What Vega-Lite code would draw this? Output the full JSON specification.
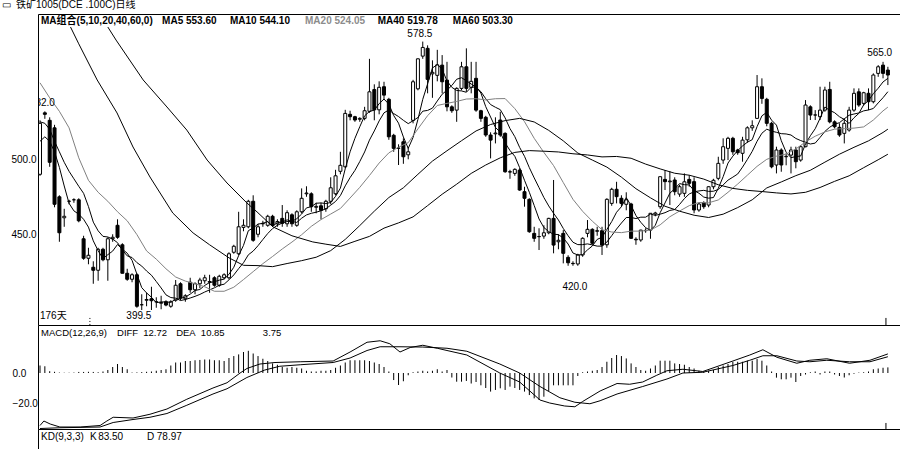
{
"$schema":"https://vega.github.io/schema/vega-lite/v6.json",
"padding":{"left":2,"top":0,"right":0,"bottom":0},
"background":"white",
"spacing":0,
"bounds":"flush",
"config":{"view":{"stroke":null},"axis":{"grid":false,"labelFont":"Liberation Sans","domainColor":"#000","labelColor":"#000","labelFontSize":10},"text":{"font":"Liberation Sans, Noto Sans CJK SC","fontSize":10,"color":"#000"},"line":{"strokeWidth":1,"invalid":"filter"},"scale":{"continuousPadding":0}},
"datasets":{
"k":[
{"i":0,"op":490,"hi":526,"lo":489,"cl":524,"m":5,"a5":512,"a10":525},
{"i":1,"op":531,"hi":532,"lo":527,"cl":530,"m":4.5,"a5":515,"a10":524},
{"i":2,"op":526,"hi":528,"lo":495,"cl":498,"m":1.2,"a5":512,"a10":520},
{"i":3,"op":521,"hi":523,"lo":468,"cl":470,"m":0.8,"a5":505,"a10":512},
{"i":4,"op":475,"hi":476,"lo":445,"cl":451,"m":0.3,"a5":494.6,"a10":505},
{"i":5,"op":461,"hi":467,"lo":455,"cl":462,"m":0.2,"a5":482.2,"a10":498},
{"i":6,"op":472,"hi":473,"lo":470,"cl":472,"m":0.2,"a5":470.6,"a10":492},
{"i":7,"op":473,"hi":474,"lo":471,"cl":473,"m":0.3,"a5":465.6,"a10":487},
{"i":8,"op":473,"hi":474,"lo":458,"cl":459,"m":0.7,"a5":463.4,"a10":482},
{"i":9,"op":447,"hi":449,"lo":433,"cl":434,"m":0.7,"a5":460,"a10":477.3},
{"i":10,"op":434,"hi":441,"lo":430,"cl":436,"m":0.8,"a5":454.8,"a10":468.5},
{"i":11,"op":428,"hi":432,"lo":417,"cl":426,"m":0.7,"a5":445.6,"a10":458.1},
{"i":12,"op":426,"hi":441,"lo":419,"cl":440,"m":0.5,"a5":439,"a10":452.3},
{"i":13,"op":440,"hi":441,"lo":432,"cl":433,"m":1,"a5":433.8,"a10":448.6},
{"i":14,"op":433,"hi":448,"lo":419,"cl":447,"m":2,"a5":436.4,"a10":448.2},
{"i":15,"op":447,"hi":450,"lo":445,"cl":448,"m":4,"a5":438.8,"a10":446.8},
{"i":16,"op":456,"hi":460,"lo":447,"cl":448,"m":6,"a5":443.2,"a10":444.4},
{"i":17,"op":443,"hi":444,"lo":424,"cl":424,"m":4,"a5":440,"a10":439.5},
{"i":18,"op":424,"hi":427,"lo":419,"cl":420,"m":2.5,"a5":437.4,"a10":435.6},
{"i":19,"op":420,"hi":424,"lo":418,"cl":423,"m":0.3,"a5":432.6,"a10":434.5},
{"i":20,"op":423,"hi":424,"lo":401,"cl":402,"m":0.4,"a5":423.4,"a10":431.1},
{"i":21,"op":403,"hi":410,"lo":399.5,"cl":403,"m":0.6,"a5":414.4,"a10":428.8},
{"i":22,"op":406,"hi":411,"lo":402,"cl":406.5,"m":0.8,"a5":410.9,"a10":425.5},
{"i":23,"op":407,"hi":415,"lo":399.5,"cl":405.7,"m":1,"a5":408,"a10":422.7},
{"i":24,"op":405,"hi":408,"lo":401,"cl":405,"m":1.5,"a5":404.4,"a10":418.5},
{"i":25,"op":404,"hi":409,"lo":400,"cl":404.5,"m":2,"a5":404.9,"a10":414.2},
{"i":26,"op":405,"hi":406,"lo":402,"cl":402.8,"m":2.5,"a5":404.9,"a10":409.6},
{"i":27,"op":402,"hi":406,"lo":401,"cl":405,"m":5,"a5":404.6,"a10":407.8},
{"i":28,"op":406,"hi":419.5,"lo":405,"cl":416,"m":7,"a5":406.7,"a10":407.4},
{"i":29,"op":417,"hi":418,"lo":406,"cl":407.5,"m":7,"a5":407.2,"a10":405.8},
{"i":30,"op":407,"hi":410,"lo":405,"cl":409,"m":8,"a5":408.1,"a10":406.5},
{"i":31,"op":418,"hi":421,"lo":411,"cl":413,"m":8,"a5":410.1,"a10":407.5},
{"i":32,"op":413,"hi":418,"lo":410,"cl":417,"m":8.5,"a5":412.5,"a10":408.6},
{"i":33,"op":417,"hi":421,"lo":414,"cl":419.5,"m":8.7,"a5":413.2,"a10":409.9},
{"i":34,"op":419,"hi":423,"lo":417,"cl":421,"m":9,"a5":415.9,"a10":411.5},
{"i":35,"op":418,"hi":423,"lo":411,"cl":418.5,"m":9,"a5":417.8,"a10":412.9},
{"i":36,"op":421,"hi":422,"lo":415,"cl":416,"m":8.5,"a5":418.4,"a10":414.3},
{"i":37,"op":416,"hi":423,"lo":415,"cl":422,"m":8.5,"a5":419.4,"a10":416},
{"i":38,"op":421,"hi":424,"lo":420,"cl":423,"m":8,"a5":420.1,"a10":416.7},
{"i":39,"op":421,"hi":438,"lo":420,"cl":437,"m":10,"a5":423.3,"a10":419.6},
{"i":40,"op":438,"hi":443,"lo":437,"cl":442,"m":11.3,"a5":428,"a10":422.9},
{"i":41,"op":437,"hi":465,"lo":436,"cl":455,"m":12.4,"a5":435.8,"a10":427.1},
{"i":42,"op":454.6,"hi":460,"lo":452,"cl":456,"m":14,"a5":442.6,"a10":431},
{"i":43,"op":455,"hi":473,"lo":454,"cl":472,"m":14.8,"a5":452.4,"a10":436.3},
{"i":44,"op":472,"hi":476,"lo":445,"cl":446,"m":13,"a5":454.2,"a10":438.8},
{"i":45,"op":450,"hi":457,"lo":448,"cl":455,"m":11.3,"a5":456.8,"a10":442.4},
{"i":46,"op":457,"hi":459,"lo":455,"cl":457.3,"m":9.5,"a5":457.3,"a10":446.5},
{"i":47,"op":456,"hi":463,"lo":455,"cl":462,"m":8,"a5":458.5,"a10":450.5},
{"i":48,"op":462,"hi":463,"lo":455,"cl":456,"m":6.4,"a5":455.3,"a10":453.8},
{"i":49,"op":457,"hi":460,"lo":455,"cl":458.5,"m":5.5,"a5":457.8,"a10":456},
{"i":50,"op":460.6,"hi":469.5,"lo":455,"cl":457.3,"m":4,"a5":458.2,"a10":457.5},
{"i":51,"op":457,"hi":466,"lo":455,"cl":464.4,"m":3.5,"a5":459.6,"a10":458.5},
{"i":52,"op":463,"hi":464,"lo":455,"cl":457,"m":4,"a5":458.6,"a10":458.6},
{"i":53,"op":456,"hi":466,"lo":455,"cl":465,"m":3.5,"a5":460.4,"a10":457.9},
{"i":54,"op":465,"hi":480.6,"lo":464,"cl":474,"m":3,"a5":463.5,"a10":460.7},
{"i":55,"op":477,"hi":482,"lo":475,"cl":477.5,"m":1.5,"a5":467.6,"a10":462.9},
{"i":56,"op":477,"hi":478,"lo":465,"cl":468.4,"m":1,"a5":468.4,"a10":464},
{"i":57,"op":468,"hi":471,"lo":464,"cl":468.6,"m":1,"a5":470.7,"a10":464.7},
{"i":58,"op":469,"hi":471,"lo":460,"cl":466,"m":1.5,"a5":470.9,"a10":465.7},
{"i":59,"op":467,"hi":473,"lo":465,"cl":472,"m":1.5,"a5":470.5,"a10":467},
{"i":60,"op":472,"hi":488,"lo":470,"cl":481,"m":2,"a5":471.2,"a10":469.4},
{"i":61,"op":477,"hi":493,"lo":476,"cl":489,"m":3.5,"a5":475.3,"a10":471.9},
{"i":62,"op":492,"hi":505,"lo":490,"cl":496,"m":5,"a5":480.8,"a10":475.8},
{"i":63,"op":495,"hi":533,"lo":494,"cl":530.6,"m":7,"a5":493.7,"a10":482.3},
{"i":64,"op":530,"hi":532.4,"lo":526,"cl":528.4,"m":8.5,"a5":505,"a10":487.8},
{"i":65,"op":528.4,"hi":529,"lo":525,"cl":526.2,"m":8.5,"a5":514,"a10":492.6},
{"i":66,"op":526.7,"hi":528,"lo":525,"cl":527.3,"m":8.5,"a5":521.7,"a10":498.5},
{"i":67,"op":527.3,"hi":535,"lo":526,"cl":532.4,"m":8.5,"a5":529,"a10":504.9},
{"i":68,"op":532,"hi":567,"lo":531,"cl":545,"m":8,"a5":531.9,"a10":512.8},
{"i":69,"op":546.5,"hi":550,"lo":526,"cl":533,"m":7,"a5":532.8,"a10":518.9},
{"i":70,"op":533,"hi":552,"lo":530,"cl":548,"m":6,"a5":537.1,"a10":525.6},
{"i":71,"op":548.4,"hi":551.7,"lo":539.5,"cl":542.8,"m":4,"a5":540.2,"a10":531},
{"i":72,"op":540,"hi":541,"lo":513,"cl":515,"m":1,"a5":536.8,"a10":532.9},
{"i":73,"op":516,"hi":517,"lo":505,"cl":507.3,"m":-4.7,"a5":529.2,"a10":530.5},
{"i":74,"op":507.3,"hi":510,"lo":496.2,"cl":507.5,"m":-8,"a5":524.1,"a10":528.5},
{"i":75,"op":511.7,"hi":514,"lo":497,"cl":501.7,"m":-5.5,"a5":514.9,"a10":526},
{"i":76,"op":503,"hi":508,"lo":500,"cl":505,"m":-1.5,"a5":507.3,"a10":523.8},
{"i":77,"op":526,"hi":553,"lo":524,"cl":551.7,"m":0.5,"a5":514.6,"a10":525.7},
{"i":78,"op":547,"hi":567.3,"lo":546,"cl":567,"m":1,"a5":526.6,"a10":527.9},
{"i":79,"op":568.8,"hi":578.5,"lo":567,"cl":574.6,"m":1.5,"a5":540,"a10":532.1},
{"i":80,"op":574,"hi":576,"lo":544,"cl":553.3,"m":1,"a5":550.3,"a10":532.6},
{"i":81,"op":557,"hi":566,"lo":541,"cl":558,"m":1.5,"a5":560.9,"a10":534.1},
{"i":82,"op":556,"hi":573,"lo":552,"cl":563,"m":2.5,"a5":563.2,"a10":538.9},
{"i":83,"op":562.8,"hi":569.5,"lo":544,"cl":551.7,"m":1,"a5":560.1,"a10":543.4},
{"i":84,"op":552.8,"hi":565,"lo":532,"cl":535,"m":2,"a5":552.2,"a10":546.1},
{"i":85,"op":535,"hi":536,"lo":531,"cl":532.4,"m":-3,"a5":548,"a10":549.2},
{"i":86,"op":532.8,"hi":548,"lo":525,"cl":547.3,"m":-5.8,"a5":545.9,"a10":553.4},
{"i":87,"op":547.3,"hi":565,"lo":546,"cl":561.7,"m":-5.8,"a5":545.6,"a10":554.4},
{"i":88,"op":561.7,"hi":574,"lo":545,"cl":547.3,"m":-5.3,"a5":544.7,"a10":552.4},
{"i":89,"op":548,"hi":565,"lo":544,"cl":552,"m":-7,"a5":548.1,"a10":550.2},
{"i":90,"op":554,"hi":565,"lo":531.7,"cl":532.8,"m":-6,"a5":548.2,"a10":548.1},
{"i":91,"op":532.4,"hi":533,"lo":525,"cl":527.3,"m":-8.2,"a5":544.2,"a10":545.1},
{"i":92,"op":528,"hi":529,"lo":515,"cl":516.2,"m":-10,"a5":535.1,"a10":540.4},
{"i":93,"op":516.2,"hi":518,"lo":500.6,"cl":512.8,"m":-12.4,"a5":528.2,"a10":536.5},
{"i":94,"op":517,"hi":528,"lo":510.6,"cl":517.5,"m":-11.3,"a5":521.3,"a10":534.7},
{"i":95,"op":526.2,"hi":531.7,"lo":515,"cl":516.2,"m":-10.2,"a5":518,"a10":533.1},
{"i":96,"op":517.3,"hi":518,"lo":491,"cl":491.7,"m":-11.3,"a5":510.9,"a10":527.6},
{"i":97,"op":491.7,"hi":493,"lo":487,"cl":491.5,"m":-9.1,"a5":505.9,"a10":520.5},
{"i":98,"op":490.6,"hi":494,"lo":489,"cl":493.3,"m":-10,"a5":502,"a10":515.1},
{"i":99,"op":492.8,"hi":494,"lo":479,"cl":479.5,"m":-11.3,"a5":494.4,"a10":507.9},
{"i":100,"op":478.4,"hi":481.7,"lo":468.4,"cl":474,"m":-12.4,"a5":486,"a10":502},
{"i":101,"op":473.3,"hi":474,"lo":451,"cl":451.7,"m":-14.7,"a5":478,"a10":494.4},
{"i":102,"op":450.6,"hi":455,"lo":445,"cl":447.3,"m":-16.9,"a5":469.2,"a10":487.6},
{"i":103,"op":448.4,"hi":454,"lo":439.5,"cl":448.5,"m":-18,"a5":460.2,"a10":481.1},
{"i":104,"op":448.8,"hi":456,"lo":447,"cl":451,"m":-15.8,"a5":454.5,"a10":474.5},
{"i":105,"op":451,"hi":461,"lo":450,"cl":460.6,"m":-12,"a5":451.8,"a10":468.9},
{"i":106,"op":460.6,"hi":486.2,"lo":437.3,"cl":442.8,"m":-8.2,"a5":450,"a10":464},
{"i":107,"op":445,"hi":450,"lo":440,"cl":446,"m":-8.2,"a5":449.8,"a10":459.5},
{"i":108,"op":450.6,"hi":452.8,"lo":430.6,"cl":437.3,"m":-8.2,"a5":447.5,"a10":453.9},
{"i":109,"op":434.6,"hi":436,"lo":429,"cl":431,"m":-8.2,"a5":443.5,"a10":449},
{"i":110,"op":430.6,"hi":432,"lo":429,"cl":430.4,"m":-8.2,"a5":437.5,"a10":444.7},
{"i":111,"op":430.2,"hi":437,"lo":429,"cl":436.2,"m":-2,"a5":436.2,"a10":443.1},
{"i":112,"op":436.2,"hi":448,"lo":435,"cl":447.3,"m":0.5,"a5":436.4,"a10":443.1},
{"i":113,"op":450.6,"hi":459.5,"lo":448,"cl":453.3,"m":1,"a5":439.6,"a10":443.6},
{"i":114,"op":453.3,"hi":454,"lo":443,"cl":444,"m":1.5,"a5":442.2,"a10":442.9},
{"i":115,"op":452,"hi":455,"lo":449,"cl":452.4,"m":2,"a5":446.6,"a10":442.1},
{"i":116,"op":452.4,"hi":455,"lo":436.2,"cl":442.8,"m":4,"a5":448,"a10":442.1},
{"i":117,"op":443,"hi":474,"lo":441,"cl":473.3,"m":7.5,"a5":453.2,"a10":444.8},
{"i":118,"op":470.6,"hi":481,"lo":469,"cl":480,"m":10,"a5":458.5,"a10":449.1},
{"i":119,"op":480,"hi":485,"lo":470.6,"cl":475.1,"m":12,"a5":464.7,"a10":453.5},
{"i":120,"op":474,"hi":476,"lo":468.4,"cl":470.6,"m":11.3,"a5":468.4,"a10":457.5},
{"i":121,"op":470,"hi":478,"lo":466,"cl":473,"m":9.7,"a5":474.4,"a10":461.2},
{"i":122,"op":470.2,"hi":471,"lo":447,"cl":447.3,"m":6.4,"a5":469.2,"a10":461.2},
{"i":123,"op":446.7,"hi":448,"lo":443,"cl":446.3,"m":4,"a5":462.5,"a10":460.5},
{"i":124,"op":446.2,"hi":453,"lo":445,"cl":452.8,"m":2,"a5":458,"a10":461.4},
{"i":125,"op":452.4,"hi":454,"lo":451,"cl":452.6,"m":1.5,"a5":454.4,"a10":461.4},
{"i":126,"op":452.8,"hi":464,"lo":447,"cl":464,"m":3,"a5":452.6,"a10":463.5},
{"i":127,"op":463.5,"hi":465,"lo":462,"cl":464.2,"m":5,"a5":456,"a10":462.6},
{"i":128,"op":468.4,"hi":488.4,"lo":467,"cl":488.4,"m":8.2,"a5":464.4,"a10":463.4},
{"i":129,"op":486.6,"hi":492.8,"lo":479.5,"cl":485.1,"m":8.2,"a5":470.9,"a10":464.4},
{"i":130,"op":485,"hi":492,"lo":469.5,"cl":485.5,"m":8.2,"a5":477.4,"a10":465.9},
{"i":131,"op":486.2,"hi":488,"lo":476,"cl":478.4,"m":6.4,"a5":480.3,"a10":466.5},
{"i":132,"op":476.8,"hi":483,"lo":475,"cl":481.7,"m":6,"a5":483.8,"a10":469.9},
{"i":133,"op":477.3,"hi":490.6,"lo":475,"cl":485,"m":5.5,"a5":483.1,"a10":473.8},
{"i":134,"op":486.6,"hi":489.5,"lo":481.7,"cl":484,"m":4,"a5":482.9,"a10":476.9},
{"i":135,"op":485.1,"hi":488,"lo":464,"cl":466.2,"m":3,"a5":479.1,"a10":478.3},
{"i":136,"op":466.2,"hi":471,"lo":465,"cl":470.2,"m":1.5,"a5":477.4,"a10":478.9},
{"i":137,"op":471,"hi":472,"lo":467,"cl":468.4,"m":1,"a5":474.8,"a10":479.3},
{"i":138,"op":469.5,"hi":482,"lo":468,"cl":481.7,"m":1.5,"a5":474.1,"a10":478.6},
{"i":139,"op":481.7,"hi":487,"lo":480,"cl":486,"m":2,"a5":474.5,"a10":478.7},
{"i":140,"op":487.3,"hi":501.7,"lo":486,"cl":497.3,"m":4,"a5":480.7,"a10":479.9},
{"i":141,"op":499.5,"hi":514,"lo":497,"cl":508.4,"m":5,"a5":488.4,"a10":482.9},
{"i":142,"op":507.3,"hi":515,"lo":499.5,"cl":514,"m":6,"a5":497.5,"a10":486.1},
{"i":143,"op":514,"hi":515,"lo":503,"cl":505,"m":7.5,"a5":502.1,"a10":488.1},
{"i":144,"op":506.2,"hi":507,"lo":503,"cl":504.4,"m":7.5,"a5":505.8,"a10":490.2},
{"i":145,"op":504,"hi":515,"lo":498.4,"cl":512.8,"m":7.5,"a5":508.9,"a10":494.8},
{"i":146,"op":513,"hi":522,"lo":511,"cl":521,"m":8.2,"a5":511.4,"a10":499.9},
{"i":147,"op":521,"hi":526,"lo":519,"cl":522.4,"m":8.2,"a5":513.1,"a10":505.3},
{"i":148,"op":527.3,"hi":556.2,"lo":527,"cl":548.4,"m":9.3,"a5":521.8,"a10":512},
{"i":149,"op":548.4,"hi":554,"lo":537,"cl":540.6,"m":8.2,"a5":529,"a10":517.4},
{"i":150,"op":540,"hi":541,"lo":522,"cl":524,"m":5,"a5":531.3,"a10":520.1},
{"i":151,"op":524,"hi":525,"lo":494,"cl":495,"m":1,"a5":526.1,"a10":518.8},
{"i":152,"op":496.2,"hi":508.4,"lo":490.6,"cl":506.2,"m":-3.1,"a5":522.8,"a10":518},
{"i":153,"op":506.2,"hi":507.3,"lo":491.7,"cl":496.2,"m":-4.2,"a5":512.4,"a10":517.1},
{"i":154,"op":501.7,"hi":504,"lo":496,"cl":502,"m":-4.2,"a5":504.7,"a10":516.9},
{"i":155,"op":502.8,"hi":508.4,"lo":490.6,"cl":506.2,"m":-3.1,"a5":501.1,"a10":516.2},
{"i":156,"op":506.2,"hi":508.4,"lo":494,"cl":498.4,"m":-6,"a5":501.8,"a10":513.9},
{"i":157,"op":499.5,"hi":509.5,"lo":498.4,"cl":508.4,"m":-2,"a5":502.2,"a10":512.5},
{"i":158,"op":508.4,"hi":539.5,"lo":508,"cl":536.2,"m":-1,"a5":510.2,"a10":511.3},
{"i":159,"op":535,"hi":536,"lo":526.2,"cl":529.5,"m":0.5,"a5":515.7,"a10":510.2},
{"i":160,"op":529.5,"hi":532.8,"lo":526.2,"cl":529.6,"m":1,"a5":520.4,"a10":510.8},
{"i":161,"op":528.4,"hi":548.4,"lo":526.2,"cl":532.8,"m":-1,"a5":527.3,"a10":514.6},
{"i":162,"op":532.8,"hi":548.4,"lo":531.7,"cl":546.2,"m":1,"a5":534.9,"a10":518.6},
{"i":163,"op":546.6,"hi":551.7,"lo":524,"cl":525,"m":1,"a5":532.6,"a10":521.4},
{"i":164,"op":525,"hi":526,"lo":520.6,"cl":521.7,"m":-1,"a5":531.1,"a10":523.4},
{"i":165,"op":521.3,"hi":524,"lo":515,"cl":516.2,"m":-2,"a5":528.4,"a10":524.4},
{"i":166,"op":517.3,"hi":527.3,"lo":510.6,"cl":524,"m":-3,"a5":526.6,"a10":527},
{"i":167,"op":519.5,"hi":535,"lo":518.4,"cl":532.8,"m":-1.5,"a5":523.9,"a10":529.4},
{"i":168,"op":532.8,"hi":547.3,"lo":531.7,"cl":544,"m":-0.5,"a5":527.7,"a10":530.2},
{"i":169,"op":545,"hi":547.3,"lo":535,"cl":536.2,"m":0.3,"a5":530.6,"a10":530.9},
{"i":170,"op":537.3,"hi":545,"lo":536,"cl":544.4,"m":0.5,"a5":536.3,"a10":532.3},
{"i":171,"op":544,"hi":547.3,"lo":532.8,"cl":538.4,"m":1,"a5":539.2,"a10":532.9},
{"i":172,"op":538.4,"hi":557.3,"lo":537.3,"cl":556.2,"m":2.5,"a5":543.8,"a10":533.9},
{"i":173,"op":557.3,"hi":562.8,"lo":555,"cl":561.7,"m":3,"a5":547.4,"a10":537.6},
{"i":174,"op":562.8,"hi":565,"lo":554,"cl":557.3,"m":3.5,"a5":551.6,"a10":541.1},
{"i":175,"op":559.5,"hi":561.7,"lo":549.5,"cl":556.2,"m":3.75,"a5":554,"a10":545.1}
],
"m20":[
{"i":0,"v":551},{"i":2,"v":541},{"i":4,"v":532},{"i":6,"v":521},{"i":8,"v":501},{"i":10,"v":486},{"i":12,"v":478},{"i":14,"v":472},{"i":16,"v":465},{"i":18,"v":459},
{"i":20,"v":449.8},{"i":22,"v":438.9},{"i":24,"v":433.4},{"i":26,"v":427},{"i":28,"v":421.5},{"i":30,"v":418.8},{"i":32,"v":417},{"i":34,"v":415},{"i":36,"v":412},{"i":38,"v":412},
{"i":40,"v":414.7},{"i":42,"v":419.8},{"i":44,"v":425.1},{"i":46,"v":430.4},{"i":48,"v":435.2},{"i":50,"v":440.2},{"i":52,"v":444.8},{"i":54,"v":449.7},{"i":56,"v":455.3},{"i":58,"v":459.8},
{"i":60,"v":463.5},{"i":62,"v":467.2},{"i":64,"v":474.2},{"i":66,"v":481.3},{"i":68,"v":489.2},{"i":70,"v":497.5},{"i":72,"v":504.3},{"i":74,"v":508.1},{"i":76,"v":511.1},{"i":78,"v":520.3},
{"i":80,"v":529.1},{"i":82,"v":535.9},{"i":84,"v":537.3},{"i":86,"v":538.6},{"i":88,"v":540.2},{"i":90,"v":540.4},{"i":92,"v":539.6},{"i":94,"v":540.4},{"i":96,"v":540.5},{"i":98,"v":533.8},
{"i":100,"v":525.1},{"i":102,"v":514},{"i":104,"v":504.6},{"i":106,"v":495.8},{"i":108,"v":484.5},{"i":110,"v":473.3},{"i":112,"v":465.3},{"i":114,"v":458.7},{"i":116,"v":453},{"i":118,"v":451.5},
{"i":120,"v":451.1},{"i":122,"v":452.1},{"i":124,"v":452.1},{"i":126,"v":452.8},{"i":128,"v":456.3},{"i":130,"v":461.7},{"i":132,"v":465.5},{"i":134,"v":469.1},{"i":136,"v":471.2},{"i":138,"v":471},
{"i":140,"v":472.9},{"i":142,"v":478},{"i":144,"v":483.5},{"i":146,"v":489.4},{"i":148,"v":495.3},{"i":150,"v":500},{"i":152,"v":502.1},{"i":154,"v":503.5},{"i":156,"v":506.9},{"i":158,"v":511.6},
{"i":160,"v":515.4},{"i":162,"v":518.3},{"i":164,"v":520.1},{"i":166,"v":520.5},{"i":168,"v":520.8},{"i":170,"v":521.6},{"i":172,"v":526.2},{"i":174,"v":532.3},{"i":175,"v":534.8}
],
"m40":[
{"i":6.3,"v":588.2},{"i":8,"v":577},{"i":11.8,"v":552.9},{"i":15.9,"v":530.9},{"i":19.2,"v":508.2},{"i":22.7,"v":488.2},{"i":27.4,"v":464.2},{"i":31.6,"v":450.9},{"i":35,"v":443},
{"i":39,"v":434.3},{"i":42,"v":429.3},{"i":45,"v":429.1},{"i":48,"v":428.4},{"i":51,"v":430.5},{"i":54,"v":432.4},{"i":57,"v":434.7},{"i":60,"v":439.1},{"i":63,"v":446.6},{"i":66,"v":455.8},
{"i":69,"v":465.4},{"i":72,"v":474.5},{"i":75,"v":481},{"i":78,"v":490},{"i":81,"v":498.8},{"i":84,"v":505.7},{"i":87,"v":512.4},{"i":90,"v":518.9},{"i":93,"v":523.2},{"i":96,"v":525.8},
{"i":99,"v":527.3},{"i":102,"v":524.9},{"i":105,"v":519.3},{"i":108,"v":512.3},{"i":111,"v":504.2},{"i":114,"v":499.5},{"i":117,"v":494.8},{"i":120,"v":488.1},{"i":123,"v":480.4},{"i":126,"v":474.3},
{"i":129,"v":468.7},{"i":132,"v":465.4},{"i":135,"v":462.7},{"i":138,"v":461.2},{"i":141,"v":463.4},{"i":144,"v":467.8},{"i":147,"v":473},{"i":150,"v":480.9},{"i":153,"v":484.9},{"i":156,"v":489.1},
{"i":159,"v":492.7},{"i":162,"v":498.1},{"i":165,"v":503.4},{"i":168,"v":508},{"i":171,"v":512.3},{"i":174,"v":517.9},{"i":175,"v":520.1}
],
"m60":[
{"i":14,"v":588.2},{"i":15.7,"v":579.5},{"i":21.3,"v":552.9},{"i":26.2,"v":534.9},{"i":30.3,"v":519.5},{"i":34.5,"v":499.5},{"i":38.6,"v":484.2},{"i":42.7,"v":470.9},{"i":44.8,"v":464.9},
{"i":48.1,"v":454.9},{"i":52,"v":449},{"i":56.3,"v":444.9},{"i":59,"v":443.4},{"i":62,"v":441.9},{"i":65,"v":445.3},{"i":68,"v":448.6},{"i":71,"v":454.1},{"i":74,"v":457.6},{"i":77,"v":461.6},
{"i":80,"v":469.1},{"i":83,"v":476.7},{"i":86,"v":483.4},{"i":89,"v":490.6},{"i":92,"v":496.2},{"i":95,"v":501},{"i":98,"v":504.6},{"i":101,"v":505.8},{"i":104,"v":505.4},{"i":107,"v":504.9},
{"i":110,"v":503.7},{"i":113,"v":502.9},{"i":116,"v":501.6},{"i":119,"v":501.9},{"i":122,"v":500.7},{"i":125,"v":496.8},{"i":128,"v":493.6},{"i":131,"v":490.7},{"i":134,"v":489.4},{"i":137,"v":486.8},
{"i":140,"v":483},{"i":143,"v":480.6},{"i":146,"v":479.3},{"i":149,"v":478.5},{"i":152,"v":477.6},{"i":155,"v":476.9},{"i":158,"v":478},{"i":161,"v":481.2},{"i":164,"v":485.3},{"i":167,"v":489},
{"i":170,"v":494.4},{"i":173,"v":499.7},{"i":175,"v":503.4}
],
"dif":[
{"i":0,"v":-35},{"i":0.8,"v":-32},{"i":2.1,"v":-34},{"i":4.1,"v":-36},{"i":8.3,"v":-36},{"i":12.4,"v":-35},{"i":13.8,"v":-32},{"i":15.1,"v":-29.5},{"i":19.2,"v":-30},{"i":22.7,"v":-27.5},
{"i":26.2,"v":-24},{"i":30.3,"v":-17.5},{"i":35.7,"v":-10},{"i":38.6,"v":-6.5},{"i":41.3,"v":0},{"i":42.7,"v":3},{"i":45.4,"v":6},{"i":48.5,"v":7},{"i":53.7,"v":7.5},{"i":60.5,"v":8},
{"i":64,"v":14},{"i":67.5,"v":20.5},{"i":70.2,"v":21.5},{"i":72.2,"v":19.5},{"i":74.3,"v":14},{"i":76.4,"v":17},{"i":79,"v":18.5},{"i":82,"v":16.5},{"i":84,"v":15},{"i":88.1,"v":12},
{"i":94.9,"v":0},{"i":99,"v":-6},{"i":103.2,"v":-18},{"i":105.2,"v":-20},{"i":108.3,"v":-22},{"i":110.4,"v":-22.5},{"i":112,"v":-19},{"i":115.6,"v":-12},{"i":119.1,"v":-7},{"i":121.7,"v":-7.5},
{"i":124.4,"v":-6},{"i":127.3,"v":-1.5},{"i":129.4,"v":1.5},{"i":132.7,"v":2.5},{"i":136.8,"v":1},{"i":143,"v":8},{"i":146.5,"v":12},{"i":149.2,"v":15.5},{"i":152.1,"v":10.5},{"i":156.2,"v":6.5},
{"i":158.9,"v":8.5},{"i":162.4,"v":9.5},{"i":167.1,"v":6.5},{"i":171.3,"v":8.5},{"i":175,"v":12.72}
],
"dea":[
{"i":0,"v":-37},{"i":4.1,"v":-36.5},{"i":12.4,"v":-36},{"i":15.1,"v":-33},{"i":19.2,"v":-31},{"i":22.7,"v":-29.5},{"i":26.2,"v":-27},{"i":30.3,"v":-21.5},{"i":35.7,"v":-14},{"i":38.6,"v":-10.5},
{"i":42.7,"v":-3},{"i":46.4,"v":2},{"i":49.5,"v":4.5},{"i":53.7,"v":5.5},{"i":60.5,"v":7},{"i":64,"v":10},{"i":67.5,"v":15},{"i":70.2,"v":17.5},{"i":74.3,"v":17.5},{"i":79,"v":17.3},
{"i":84,"v":16.5},{"i":88.1,"v":14.5},{"i":94.9,"v":6},{"i":99,"v":0},{"i":103.2,"v":-9},{"i":107.3,"v":-16.5},{"i":110.4,"v":-19.5},{"i":113.5,"v":-20.5},{"i":115.6,"v":-18.5},{"i":119.1,"v":-14},
{"i":124.4,"v":-9},{"i":129.4,"v":-4},{"i":132.7,"v":0},{"i":136.8,"v":0.5},{"i":143,"v":5},{"i":146.5,"v":8.5},{"i":149.2,"v":11.5},{"i":152.1,"v":11.5},{"i":156.2,"v":8},{"i":158.9,"v":7.5},
{"i":162.4,"v":8.5},{"i":167.1,"v":7.5},{"i":171.3,"v":7.5},{"i":175,"v":10.85}
],
"leg":[
{"i":0.21,"v":592.2,"t":"MA组合(5,10,20,40,60,0)"},
{"i":25.2,"v":592.2,"t":"MA5 553.60"},
{"i":39.2,"v":592.2,"t":"MA10 544.10"},
{"i":54.7,"v":592.2,"t":"MA20 524.05"},
{"i":69.7,"v":592.2,"t":"MA40 519.78"},
{"i":85.2,"v":592.2,"t":"MA60 503.30"}
],
"pk":[
{"i":78.4,"v":583.5,"t":"578.5"},
{"i":173.3,"v":570.9,"t":"565.0"},
{"i":20.4,"v":395.5,"t":"399.5"},
{"i":110.4,"v":414.9,"t":"420.0"},
{"i":0.5,"v":537.5,"t":"532.0"}
],
"misc":[{"i":0,"v":395.5,"t":"176天"}],
"hdr":[{"i":-7.84,"v":606.23,"t":"▭"},{"i":-4.95,"v":606.23,"t":"铁矿1005(DCE .100C)日线"}],
"mh":[
{"i":0.21,"v":26.67,"t":"MACD(12,26,9)"},
{"i":15.9,"v":26.67,"t":"DIFF"},
{"i":21.3,"v":26.67,"t":"12.72"},
{"i":28.1,"v":26.67,"t":"DEA"},
{"i":33.2,"v":26.67,"t":"10.85"},
{"i":46,"v":26.67,"t":"3.75"}
],
"kd":[
{"i":0.21,"v":60,"t":"KD(9,3,3)"},
{"i":10.3,"v":60,"t":"K"},
{"i":12,"v":60,"t":"83.50"},
{"i":22.1,"v":60,"t":"D"},
{"i":24.1,"v":60,"t":"78.97"}
],
"mk1":[{"i":174.6,"a":394.2,"b":389.5}],
"mk3":[{"i":10.3,"a":394.2,"b":389.5}],
"mk2":[{"i":174.6,"a":-33.3,"b":-37.3}]
},
"vconcat":[
{
"width":862,"height":311,
"layer":[
{"data":{"name":"k"},"mark":{"type":"rule","color":"#000","strokeWidth":1},
 "encoding":{
  "x":{"field":"i","type":"quantitative","scale":{"domain":[-0.413,177.5],"nice":false,"zero":false,"padding":0},"axis":{"orient":"top","labels":false,"ticks":false,"domain":true,"domainColor":"#000","grid":false,"title":null}},
  "y":{"field":"lo","type":"quantitative","scale":{"domain":[389.5,596.9],"nice":false,"zero":false},"axis":{"values":[450,500],"format":".1f","ticks":false,"tickSize":0,"labelAlign":"left","labelPadding":27,"grid":false,"title":null,"domainColor":"#000"}},
  "y2":{"field":"hi"}}},
{"data":{"name":"k"},"mark":{"type":"bar","size":3,"stroke":"#000","strokeWidth":1},
 "encoding":{
  "x":{"field":"i","type":"quantitative","scale":{"domain":[-0.413,177.5],"nice":false,"zero":false,"padding":0},"axis":{"orient":"top","labels":false,"ticks":false,"domain":true,"domainColor":"#000","grid":false,"title":null}},
  "y":{"field":"op","type":"quantitative","scale":{"domain":[389.5,596.9],"nice":false,"zero":false},"axis":{"values":[450,500],"format":".1f","ticks":false,"tickSize":0,"labelAlign":"left","labelPadding":27,"grid":false,"title":null,"domainColor":"#000"}},
  "y2":{"field":"cl"},
  "fill":{"condition":{"test":"datum.cl >= datum.op","value":"#ffffff"},"value":"#000000"}}},
{"data":{"name":"k"},"mark":{"type":"line","color":"#000","strokeWidth":1,"clip":true},
 "encoding":{
  "x":{"field":"i","type":"quantitative","scale":{"domain":[-0.413,177.5],"nice":false,"zero":false,"padding":0},"axis":{"orient":"top","labels":false,"ticks":false,"domain":true,"domainColor":"#000","grid":false,"title":null}},
  "y":{"field":"a5","type":"quantitative","scale":{"domain":[389.5,596.9],"nice":false,"zero":false},"axis":{"values":[450,500],"format":".1f","ticks":false,"tickSize":0,"labelAlign":"left","labelPadding":27,"grid":false,"title":null,"domainColor":"#000"}}}},
{"data":{"name":"k"},"mark":{"type":"line","color":"#000","strokeWidth":1,"clip":true},
 "encoding":{
  "x":{"field":"i","type":"quantitative","scale":{"domain":[-0.413,177.5],"nice":false,"zero":false,"padding":0},"axis":{"orient":"top","labels":false,"ticks":false,"domain":true,"domainColor":"#000","grid":false,"title":null}},
  "y":{"field":"a10","type":"quantitative","scale":{"domain":[389.5,596.9],"nice":false,"zero":false},"axis":{"values":[450,500],"format":".1f","ticks":false,"tickSize":0,"labelAlign":"left","labelPadding":27,"grid":false,"title":null,"domainColor":"#000"}}}},
{"data":{"name":"m20"},"mark":{"type":"line","color":"#808080","strokeWidth":1,"clip":true},
 "encoding":{
  "x":{"field":"i","type":"quantitative","scale":{"domain":[-0.413,177.5],"nice":false,"zero":false,"padding":0},"axis":{"orient":"top","labels":false,"ticks":false,"domain":true,"domainColor":"#000","grid":false,"title":null}},
  "y":{"field":"v","type":"quantitative","scale":{"domain":[389.5,596.9],"nice":false,"zero":false},"axis":{"values":[450,500],"format":".1f","ticks":false,"tickSize":0,"labelAlign":"left","labelPadding":27,"grid":false,"title":null,"domainColor":"#000"}}}},
{"data":{"name":"m40"},"mark":{"type":"line","color":"#000","strokeWidth":1,"clip":true},
 "encoding":{
  "x":{"field":"i","type":"quantitative","scale":{"domain":[-0.413,177.5],"nice":false,"zero":false,"padding":0},"axis":{"orient":"top","labels":false,"ticks":false,"domain":true,"domainColor":"#000","grid":false,"title":null}},
  "y":{"field":"v","type":"quantitative","scale":{"domain":[389.5,596.9],"nice":false,"zero":false},"axis":{"values":[450,500],"format":".1f","ticks":false,"tickSize":0,"labelAlign":"left","labelPadding":27,"grid":false,"title":null,"domainColor":"#000"}}}},
{"data":{"name":"m60"},"mark":{"type":"line","color":"#000","strokeWidth":1,"clip":true},
 "encoding":{
  "x":{"field":"i","type":"quantitative","scale":{"domain":[-0.413,177.5],"nice":false,"zero":false,"padding":0},"axis":{"orient":"top","labels":false,"ticks":false,"domain":true,"domainColor":"#000","grid":false,"title":null}},
  "y":{"field":"v","type":"quantitative","scale":{"domain":[389.5,596.9],"nice":false,"zero":false},"axis":{"values":[450,500],"format":".1f","ticks":false,"tickSize":0,"labelAlign":"left","labelPadding":27,"grid":false,"title":null,"domainColor":"#000"}}}},
{"data":{"name":"leg"},"mark":{"type":"text","align":"left","baseline":"middle","fontWeight":"bold","fontSize":10},
 "encoding":{
  "x":{"field":"i","type":"quantitative","scale":{"domain":[-0.413,177.5],"nice":false,"zero":false,"padding":0},"axis":{"orient":"top","labels":false,"ticks":false,"domain":true,"domainColor":"#000","grid":false,"title":null}},
  "y":{"field":"v","type":"quantitative","scale":{"domain":[389.5,596.9],"nice":false,"zero":false},"axis":{"values":[450,500],"format":".1f","ticks":false,"tickSize":0,"labelAlign":"left","labelPadding":27,"grid":false,"title":null,"domainColor":"#000"}},
  "text":{"field":"t"},
  "color":{"condition":{"test":"indexof(datum.t,'MA20')==0","value":"#8c8c8c"},"value":"#000"}}},
{"data":{"name":"pk"},"mark":{"type":"text","align":"center","baseline":"middle","fontSize":10,"clip":true},
 "encoding":{
  "x":{"field":"i","type":"quantitative","scale":{"domain":[-0.413,177.5],"nice":false,"zero":false,"padding":0},"axis":{"orient":"top","labels":false,"ticks":false,"domain":true,"domainColor":"#000","grid":false,"title":null}},
  "y":{"field":"v","type":"quantitative","scale":{"domain":[389.5,596.9],"nice":false,"zero":false},"axis":{"values":[450,500],"format":".1f","ticks":false,"tickSize":0,"labelAlign":"left","labelPadding":27,"grid":false,"title":null,"domainColor":"#000"}},
  "text":{"field":"t"}}},
{"data":{"name":"misc"},"mark":{"type":"text","align":"left","baseline":"middle","fontSize":10},
 "encoding":{
  "x":{"field":"i","type":"quantitative","scale":{"domain":[-0.413,177.5],"nice":false,"zero":false,"padding":0},"axis":{"orient":"top","labels":false,"ticks":false,"domain":true,"domainColor":"#000","grid":false,"title":null}},
  "y":{"field":"v","type":"quantitative","scale":{"domain":[389.5,596.9],"nice":false,"zero":false},"axis":{"values":[450,500],"format":".1f","ticks":false,"tickSize":0,"labelAlign":"left","labelPadding":27,"grid":false,"title":null,"domainColor":"#000"}},
  "text":{"field":"t"}}},
{"data":{"name":"hdr"},"mark":{"type":"text","align":"left","baseline":"top","fontSize":10},
 "encoding":{
  "x":{"field":"i","type":"quantitative","scale":{"domain":[-0.413,177.5],"nice":false,"zero":false,"padding":0},"axis":{"orient":"top","labels":false,"ticks":false,"domain":true,"domainColor":"#000","grid":false,"title":null}},
  "y":{"field":"v","type":"quantitative","scale":{"domain":[389.5,596.9],"nice":false,"zero":false},"axis":{"values":[450,500],"format":".1f","ticks":false,"tickSize":0,"labelAlign":"left","labelPadding":27,"grid":false,"title":null,"domainColor":"#000"}},
  "text":{"field":"t"}}},
{"data":{"name":"mk1"},"mark":{"type":"rule","color":"#000","strokeWidth":1},
 "encoding":{
  "x":{"field":"i","type":"quantitative","scale":{"domain":[-0.413,177.5],"nice":false,"zero":false,"padding":0},"axis":{"orient":"top","labels":false,"ticks":false,"domain":true,"domainColor":"#000","grid":false,"title":null}},
  "y":{"field":"a","type":"quantitative","scale":{"domain":[389.5,596.9],"nice":false,"zero":false},"axis":{"values":[450,500],"format":".1f","ticks":false,"tickSize":0,"labelAlign":"left","labelPadding":27,"grid":false,"title":null,"domainColor":"#000"}},
  "y2":{"field":"b"}}},
{"data":{"name":"mk3"},"mark":{"type":"rule","color":"#000","strokeWidth":1,"strokeDash":[1,2]},
 "encoding":{
  "x":{"field":"i","type":"quantitative","scale":{"domain":[-0.413,177.5],"nice":false,"zero":false,"padding":0},"axis":{"orient":"top","labels":false,"ticks":false,"domain":true,"domainColor":"#000","grid":false,"title":null}},
  "y":{"field":"a","type":"quantitative","scale":{"domain":[389.5,596.9],"nice":false,"zero":false},"axis":{"values":[450,500],"format":".1f","ticks":false,"tickSize":0,"labelAlign":"left","labelPadding":27,"grid":false,"title":null,"domainColor":"#000"}},
  "y2":{"field":"b"}}}
]
},
{
"width":862,"height":104,
"layer":[
{"data":{"name":"k"},"mark":{"type":"rule","color":"#000","strokeWidth":1},
 "encoding":{
  "x":{"field":"i","type":"quantitative","scale":{"domain":[-0.413,177.5],"nice":false,"zero":false,"padding":0},"axis":{"orient":"top","labels":false,"ticks":false,"domain":true,"domainColor":"#000","grid":false,"title":null}},
  "y":{"field":"m","type":"quantitative","scale":{"domain":[-37.33,32],"nice":false,"zero":false},"axis":{"values":[0,-20],"format":".1f","ticks":false,"tickSize":0,"labelAlign":"left","labelPadding":26,"grid":false,"title":null,"domainColor":"#000"}},
  "y2":{"datum":0}}},
{"data":{"name":"dif"},"mark":{"type":"line","color":"#000","strokeWidth":1,"clip":true},
 "encoding":{
  "x":{"field":"i","type":"quantitative","scale":{"domain":[-0.413,177.5],"nice":false,"zero":false,"padding":0},"axis":{"orient":"top","labels":false,"ticks":false,"domain":true,"domainColor":"#000","grid":false,"title":null}},
  "y":{"field":"v","type":"quantitative","scale":{"domain":[-37.33,32],"nice":false,"zero":false},"axis":{"values":[0,-20],"format":".1f","ticks":false,"tickSize":0,"labelAlign":"left","labelPadding":26,"grid":false,"title":null,"domainColor":"#000"}}}},
{"data":{"name":"dea"},"mark":{"type":"line","color":"#000","strokeWidth":1,"clip":true},
 "encoding":{
  "x":{"field":"i","type":"quantitative","scale":{"domain":[-0.413,177.5],"nice":false,"zero":false,"padding":0},"axis":{"orient":"top","labels":false,"ticks":false,"domain":true,"domainColor":"#000","grid":false,"title":null}},
  "y":{"field":"v","type":"quantitative","scale":{"domain":[-37.33,32],"nice":false,"zero":false},"axis":{"values":[0,-20],"format":".1f","ticks":false,"tickSize":0,"labelAlign":"left","labelPadding":26,"grid":false,"title":null,"domainColor":"#000"}}}},
{"data":{"name":"mh"},"mark":{"type":"text","align":"left","baseline":"middle","fontSize":9.5},
 "encoding":{
  "x":{"field":"i","type":"quantitative","scale":{"domain":[-0.413,177.5],"nice":false,"zero":false,"padding":0},"axis":{"orient":"top","labels":false,"ticks":false,"domain":true,"domainColor":"#000","grid":false,"title":null}},
  "y":{"field":"v","type":"quantitative","scale":{"domain":[-37.33,32],"nice":false,"zero":false},"axis":{"values":[0,-20],"format":".1f","ticks":false,"tickSize":0,"labelAlign":"left","labelPadding":26,"grid":false,"title":null,"domainColor":"#000"}},
  "text":{"field":"t"}}},
{"data":{"name":"mk2"},"mark":{"type":"rule","color":"#000","strokeWidth":1},
 "encoding":{
  "x":{"field":"i","type":"quantitative","scale":{"domain":[-0.413,177.5],"nice":false,"zero":false,"padding":0},"axis":{"orient":"top","labels":false,"ticks":false,"domain":true,"domainColor":"#000","grid":false,"title":null}},
  "y":{"field":"a","type":"quantitative","scale":{"domain":[-37.33,32],"nice":false,"zero":false},"axis":{"values":[0,-20],"format":".1f","ticks":false,"tickSize":0,"labelAlign":"left","labelPadding":26,"grid":false,"title":null,"domainColor":"#000"}},
  "y2":{"field":"b"}}}
]
},
{
"width":862,"height":20,
"layer":[
{"data":{"name":"kd"},"mark":{"type":"text","align":"left","baseline":"middle","fontSize":10},
 "encoding":{
  "x":{"field":"i","type":"quantitative","scale":{"domain":[-0.413,177.5],"nice":false,"zero":false,"padding":0},"axis":{"orient":"top","labels":false,"ticks":false,"domain":true,"domainColor":"#000","grid":false,"title":null}},
  "y":{"field":"v","type":"quantitative","scale":{"domain":[0,100],"nice":false,"zero":false},"axis":{"labels":false,"ticks":false,"domain":true,"domainColor":"#000","grid":false,"title":null}},
  "text":{"field":"t"}}}
]
}
]
}
